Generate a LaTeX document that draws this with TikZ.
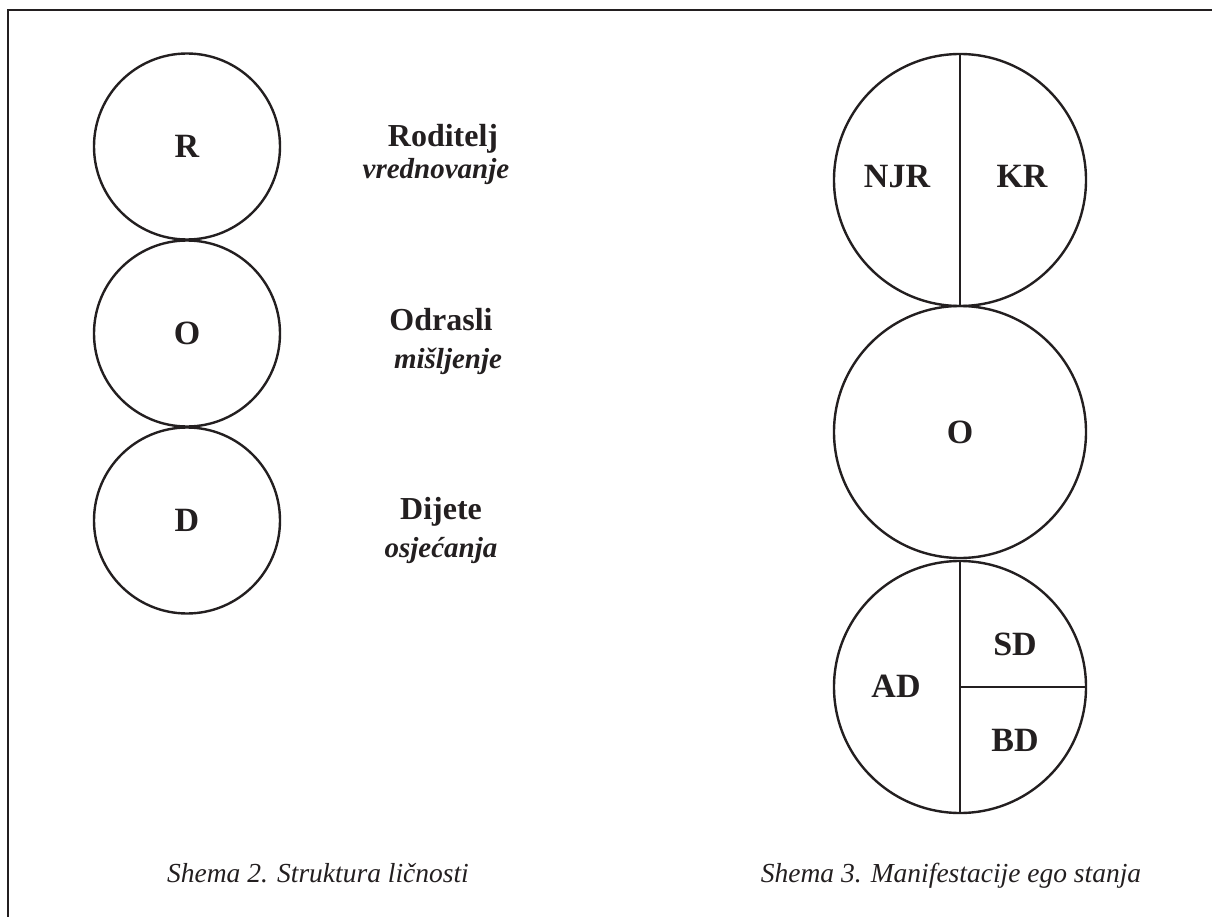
\documentclass[tikz,border=0pt]{standalone}
\usepackage{fontspec}
\setmainfont{Liberation Serif}
\definecolor{ink}{RGB}{35,31,32}
\begin{document}
\begin{tikzpicture}[x=1pt,y=-1pt,
  every node/.style={text=ink},
  ring/.style={circle,draw=ink,line width=2.4pt,inner sep=0pt,outer sep=0pt},
  split/.style={draw=ink,line width=2.4pt},
  lab/.style={font=\fontsize{34}{40}\selectfont\bfseries},
  blab/.style={font=\fontsize{34}{40}\selectfont\bfseries,anchor=base},
  word/.style={font=\fontsize{32}{38}\selectfont\bfseries,anchor=base},
  gloss/.style={font=\fontsize{29}{35}\selectfont\bfseries\itshape,anchor=base},
  capt/.style={font=\fontsize{27.5}{33}\selectfont\itshape,anchor=base}]
\useasboundingbox (0,0) rectangle (1212,917);
% frame
\coordinate (fb) at (8,917);
\coordinate (fc) at (8,10);
\coordinate (fr) at (1212,10);
\draw[draw=ink,line width=2.8pt] (fb) -- (fc) -- (fr);
% left scheme
\node[ring,minimum size=186pt,lab] (R) at (187,146.5) {R};
\node[ring,minimum size=186pt,lab] (O) at (187,333.5) {O};
\node[ring,minimum size=186pt,lab] (D) at (187,520.5) {D};
\node[word] (rw) at (443,147) {Roditelj};
\node[gloss] (rg) at (436,179) {vrednovanje};
\node[word] (ow) at (441,330) {Odrasli};
\node[gloss] (og) at (448,368) {mišljenje};
\node[word] (dw) at (441,519) {Dijete};
\node[gloss] (dg) at (441,557) {osjećanja};
% right scheme
\node[ring,minimum size=252pt] (P) at (960,180) {};
\node[ring,minimum size=252pt,lab] (A) at (960,432) {O};
\node[ring,minimum size=252pt] (C) at (960,687) {};
\draw[split] (P.north) -- (P.south);
\draw[split] (C.north) -- (C.south);
\draw[split] (C.center) -- (C.east);
\node[blab] (njr) at (897,188) {NJR};
\node[blab] (kr) at (1022,188) {KR};
\node[blab] (sd) at (1015,655) {SD};
\node[blab] (ad) at (896,697) {AD};
\node[blab] (bd) at (1015,751) {BD};
% captions
\node[capt] (c2) at (318,882) {Shema 2. Struktura ličnosti};
\node[capt] (c3) at (951,882) {Shema 3. Manifestacije ego stanja};
\end{tikzpicture}
\end{document}
